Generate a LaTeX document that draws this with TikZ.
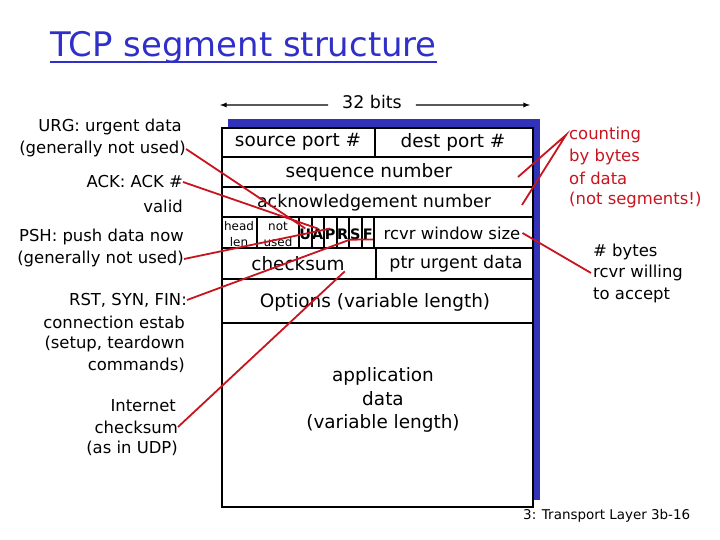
\documentclass[tikz,border=0pt]{standalone}
\usepackage{fontspec}
\setmainfont{DejaVu Sans}
\usepackage{xcolor}
\usetikzlibrary{arrows}
\definecolor{titleblue}{RGB}{48,48,200}
\definecolor{shadeblue}{RGB}{50,50,185}
\definecolor{notered}{RGB}{200,20,30}
\tikzset{
  field/.style={font=\fontsize{18.5}{22}\selectfont, inner sep=0pt},
  small/.style={font=\fontsize{12}{16}\selectfont, inner sep=0pt, align=center},
  flagbit/.style={font=\fontsize{14.5}{16}\selectfont\bfseries, inner sep=0pt},
  note/.style={font=\fontsize{16.5}{19}\selectfont, inner sep=0pt},
  pointer/.style={notered, line width=1.8bp},
  frame/.style={line width=2.6bp},
}

\begin{document}
\begin{tikzpicture}[x=1bp,y=-1bp]
\useasboundingbox (0,0) rectangle (720,540);

% title
\node (title) [titleblue, font=\fontsize{34}{40}\selectfont, anchor=base west, inner sep=0pt] at (50,57) {TCP segment structure};
\draw [titleblue, line width=2.5bp] ([yshift=-5bp]title.base west) -- ([yshift=-5bp]title.base east);

% width of a row
\node (bits) [field, font=\fontsize{17.5}{20}\selectfont] at (372,102) {32 bits};
\coordinate (wleft) at (220,105);
\coordinate (wright) at (530,105);
\draw [-latex, line width=1.3bp] ([xshift=-14bp,yshift=-3bp]bits.west) -- (wleft);
\draw [-latex, line width=1.3bp] ([xshift=14bp,yshift=-3bp]bits.east) -- (wright);

% segment frame
\fill [shadeblue] (228,119) rectangle (540,500);
\fill [white] (222,128) rectangle (533,507);
\foreach \y in {157,187,217,248,279,323}
  \draw [frame] (222,\y) -- (533,\y);
\draw [frame] (375,128) -- (375,157);
\draw [frame] (257,217) -- (257,248);
\foreach \x in {299,311.5,324,336.5,349,361.5,374}
  \draw [line width=2bp] (\x,217) -- (\x,248);
\draw [frame] (376,248) -- (376,279);
\draw [frame] (222,128) rectangle (533,507);

% fields
\node (srcport) [field] at (298,142) {source port \#};
\node (dstport) [field] at (453,142) {dest port \#};
\node (seqnum) [field] at (369,172) {sequence number};
\node (acknum) [field, font=\fontsize{17.5}{22}\selectfont] at (374,203) {acknowledgement number};
\node (hlen) [small] at (239,234) {head\\len};
\node (unused) [small] at (278,234) {not\\used};
\foreach \f [count=\i] in {U,A,P,R,S,F}
  \node (flag\f) [flagbit] at (292.75+12.5*\i,234) {\f};
\node (rwin) [field, font=\fontsize{16.5}{20}\selectfont] at (452,233) {rcvr window size};
\node (csum) [field] at (298,264) {checksum};
\node (urgptr) [field, font=\fontsize{17.5}{22}\selectfont] at (456,264) {ptr urgent data};
\node (opts) [field] at (375,302) {Options (variable length)};
\node (appdata) [field, align=center, font=\fontsize{18.5}{24}\selectfont] at (383,400) {application\\data\\(variable length)};

% notes on the left
\node (urgA) [note, anchor=east] at (182,127) {URG: urgent data};
\node (urgB) [note, anchor=east] at (186,149) {(generally not used)};
\node (ackA) [note, anchor=east] at (183,182) {ACK: ACK \#};
\node (ackB) [note, anchor=east] at (183,206) {valid};
\node (pshA) [note, anchor=east] at (184,237) {PSH: push data now};
\node (pshB) [note, anchor=east] at (184,259) {(generally not used)};
\node (rstA) [note, anchor=east] at (187,300) {RST, SYN, FIN:};
\node (rstB) [note, anchor=east] at (185,322) {connection estab};
\node (rstC) [note, anchor=east] at (185,344) {(setup, teardown};
\node (rstD) [note, anchor=east] at (185,365) {commands)};
\node (inetA) [note, anchor=east] at (176,406) {Internet};
\node (inetB) [note, anchor=east] at (178,427) {checksum};
\node (inetC) [note, anchor=east] at (178,448) {(as in UDP)};

% notes on the right
\node (cntA) [note, notered, anchor=west] at (569,135) {counting};
\node (cntB) [note, notered, anchor=west] at (569,157) {by bytes};
\node (cntC) [note, notered, anchor=west] at (569,178) {of data};
\node (cntD) [note, notered, anchor=west] at (569,200) {(not segments!)};
\node (winA) [note, anchor=west] at (593,252) {\# bytes};
\node (winB) [note, anchor=west] at (593,273) {rcvr willing};
\node (winC) [note, anchor=west] at (593,295) {to accept};

\node (footer) [font=\fontsize{13.5}{16}\selectfont, anchor=west, inner sep=0pt] at (523,516) {3: Transport Layer 3b-16};

% red pointers
\coordinate (seqtick) at (518,177);
\coordinate (acktick) at (522,205);
\draw [pointer] (urgB.east) -- (flagU.north);
\draw [pointer] (ackA.east) -- (flagA.north);
\draw [pointer] (pshB.east) -- (flagP.north);
\draw [pointer] (rstA.east) -- (flagS.south west) -- (flagF.south east);
\draw [pointer] (inetB.east) -- (csum.south east);
\draw [pointer] (seqtick) -- ([xshift=-3bp]cntA.west) -- (acktick);
\draw [pointer] ([xshift=2bp]rwin.east) -- ([xshift=-2bp]winB.west);
\end{tikzpicture}
\end{document}
